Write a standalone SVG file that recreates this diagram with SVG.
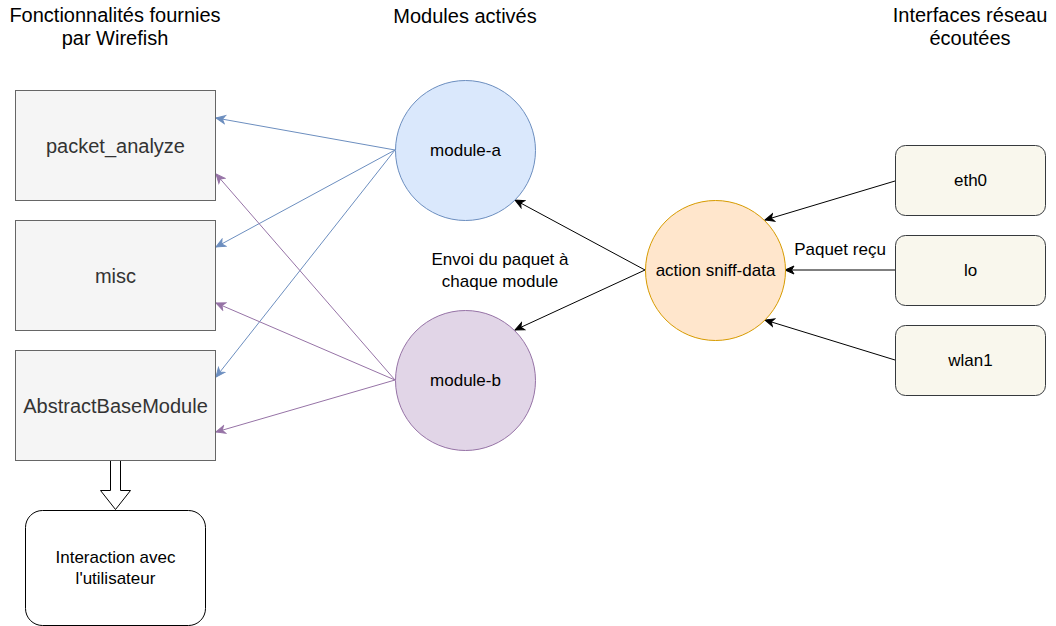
<svg xmlns="http://www.w3.org/2000/svg" width="1056" height="626" viewBox="0 0 1056 626">
<style>
text{font-family:"Liberation Sans",Arial,Helvetica,sans-serif;text-anchor:middle;dominant-baseline:central}
.t20{font-size:20px;fill:#000}
.box{fill:#f5f5f5;stroke:#666666;stroke-width:1}
.bt{font-size:20px;fill:#333333}
.nt{font-size:17px;fill:#000}
.ifc{fill:#f9f7ed;stroke:#36393d;stroke-width:1}
.blue{stroke:#6c8ebf;fill:none;stroke-width:1}
.purple{stroke:#9673a6;fill:none;stroke-width:1}
.black{stroke:#000;fill:none;stroke-width:1}
</style>
<defs>
<marker id="mb" markerUnits="userSpaceOnUse" markerWidth="12" markerHeight="12" viewBox="0 0 12 12" refX="10" refY="6" orient="auto"><path d="M1,2 L10,6 L1,10 L3.5,6 Z" fill="#6c8ebf" stroke="#6c8ebf"/></marker>
<marker id="mp" markerUnits="userSpaceOnUse" markerWidth="12" markerHeight="12" viewBox="0 0 12 12" refX="10" refY="6" orient="auto"><path d="M1,2 L10,6 L1,10 L3.5,6 Z" fill="#9673a6" stroke="#9673a6"/></marker>
<marker id="mk" markerUnits="userSpaceOnUse" markerWidth="12" markerHeight="12" viewBox="0 0 12 12" refX="10" refY="6" orient="auto"><path d="M1,2 L10,6 L1,10 L3.5,6 Z" fill="#000" stroke="#000"/></marker>
</defs>
<rect width="1056" height="626" fill="#ffffff"/>
<g id="titles">
<text class="t20" x="115" y="15">Fonctionnalités fournies</text>
<text class="t20" x="115" y="38">par Wirefish</text>
<text class="t20" x="465" y="16">Modules activés</text>
<text class="t20" x="970" y="15">Interfaces réseau</text>
<text class="t20" x="970" y="38">écoutées</text>
</g>
<g id="connectors">
<line class="blue" x1="395" y1="150" x2="216" y2="118" marker-end="url(#mb)"/>
<line class="blue" x1="395" y1="150" x2="216" y2="247" marker-end="url(#mb)"/>
<line class="blue" x1="395" y1="150" x2="216" y2="377" marker-end="url(#mb)"/>
<line class="purple" x1="395" y1="380" x2="216" y2="174" marker-end="url(#mp)"/>
<line class="purple" x1="395" y1="380" x2="216" y2="303" marker-end="url(#mp)"/>
<line class="purple" x1="395" y1="380" x2="216" y2="432" marker-end="url(#mp)"/>
<line class="black" x1="645" y1="270" x2="515" y2="200" marker-end="url(#mk)"/>
<line class="black" x1="645" y1="270" x2="515" y2="330" marker-end="url(#mk)"/>
<line class="black" x1="895" y1="181" x2="765" y2="220" marker-end="url(#mk)"/>
<line class="black" x1="895" y1="270" x2="785" y2="270" marker-end="url(#mk)"/>
<line class="black" x1="895" y1="360" x2="765" y2="320" marker-end="url(#mk)"/>
<path d="M110.5,460.5 L120.5,460.5 L120.5,490.5 L130.5,490.5 L115.5,509.5 L100.5,490.5 L110.5,490.5 Z" fill="#ffffff" stroke="#000" stroke-width="1"/>
<text class="nt" x="500" y="259">Envoi du paquet à</text>
<text class="nt" x="500" y="281">chaque module</text>
<text class="nt" x="840" y="249">Paquet reçu</text>
</g>
<g id="packet_analyze"><rect class="box" x="15.5" y="90.5" width="200" height="110"/><text class="bt" x="115.5" y="146">packet_analyze</text></g>
<g id="misc"><rect class="box" x="15.5" y="220.5" width="200" height="110"/><text class="bt" x="115.5" y="276">misc</text></g>
<g id="AbstractBaseModule"><rect class="box" x="15.5" y="350.5" width="200" height="110"/><text class="bt" x="115.5" y="406">AbstractBaseModule</text></g>
<g id="interaction"><rect x="25.5" y="510.5" width="180" height="115" rx="17" fill="#ffffff" stroke="#000"/><text class="nt" x="115.5" y="557">Interaction avec</text><text class="nt" x="115.5" y="578">l'utilisateur</text></g>
<g id="module-a"><circle cx="465.5" cy="150.5" r="70" fill="#dae8fc" stroke="#6c8ebf"/><text class="nt" x="465.5" y="150">module-a</text></g>
<g id="module-b"><circle cx="465.5" cy="380.5" r="70" fill="#e1d5e7" stroke="#9673a6"/><text class="nt" x="465.5" y="380">module-b</text></g>
<g id="sniff"><circle cx="715.5" cy="270.5" r="70" fill="#ffe6cc" stroke="#d79b00"/><text class="nt" x="715.5" y="270">action sniff-data</text></g>
<g id="eth0"><rect class="ifc" x="895.5" y="145.5" width="150" height="70" rx="10"/><text class="nt" x="970.5" y="180">eth0</text></g>
<g id="lo"><rect class="ifc" x="895.5" y="235.5" width="150" height="70" rx="10"/><text class="nt" x="970.5" y="270">lo</text></g>
<g id="wlan1"><rect class="ifc" x="895.5" y="325.5" width="150" height="70" rx="10"/><text class="nt" x="970.5" y="360">wlan1</text></g>
</svg>
